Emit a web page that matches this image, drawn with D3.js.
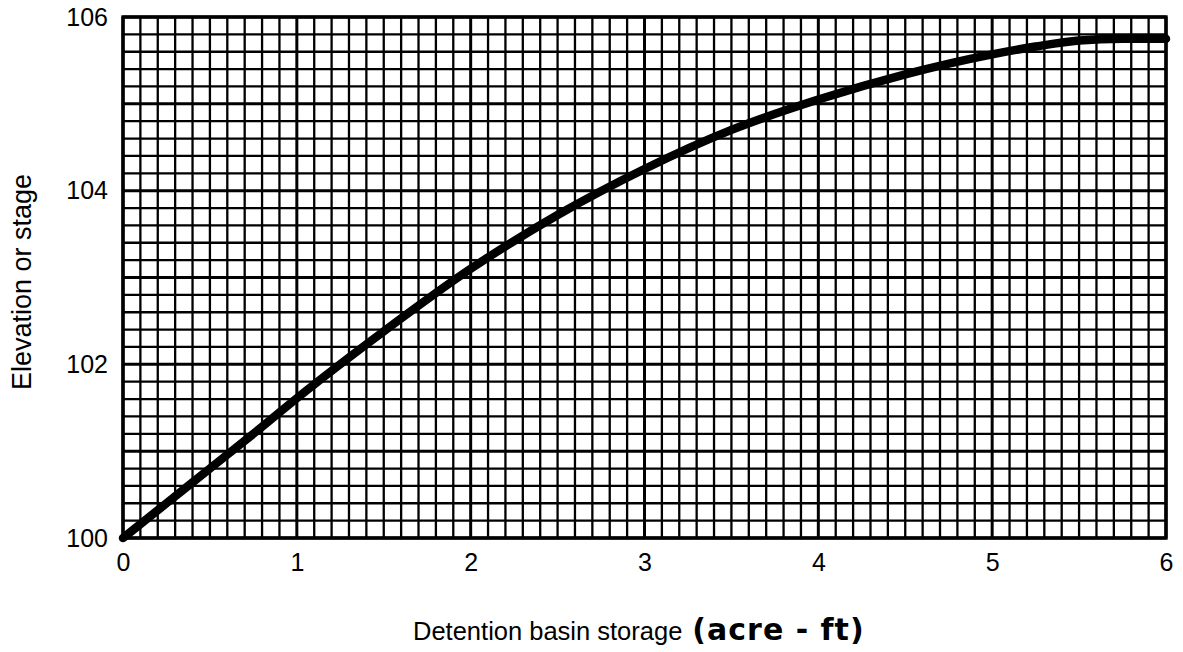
<!DOCTYPE html>
<html><head><meta charset="utf-8">
<script src="https://cdn.jsdelivr.net/npm/d3@7"></script>
<style>body{margin:0;background:#fff}svg{display:block}</style>
</head><body><svg id="c" width="1183" height="652"></svg>
<script>
const storage = [0, 0.25, 0.5, 0.75, 1.0, 1.5, 2.0, 2.5, 3.0, 3.5, 4.0, 4.5, 5.0, 5.25, 5.5, 5.75, 6.0];
const elevation = [100, 100.4, 100.8, 101.2, 101.61, 102.38, 103.1, 103.72, 104.25, 104.7, 105.05, 105.34, 105.57, 105.66, 105.73, 105.75, 105.75];
const xTicks = [0, 1, 2, 3, 4, 5, 6];
const yTicks = [100, 102, 104, 106];
const xLabel = "Detention basin storage";
const xUnit = "(acre - ft)";
const yLabel = "Elevation or stage";

const svg = d3.select("#c");
const L = 123, R = 1166, T = 17, B = 538;
const x = d3.scaleLinear().domain([0, 6]).range([L, R]);
const y = d3.scaleLinear().domain([100, 106]).range([B, T]);
const FONT = "Liberation Sans, Arial, sans-serif";

const g = svg.append("g");
const isMajor = d => Math.abs(d - Math.round(d)) < 1e-6;
g.selectAll("line.vx").data(d3.range(0, 61).map(i => i / 10)).join("line")
  .attr("x1", d => x(d)).attr("x2", d => x(d)).attr("y1", T).attr("y2", B)
  .attr("stroke", "#000").attr("stroke-width", d => isMajor(d) ? 3 : 2.3);
g.selectAll("line.hy").data(d3.range(0, 31).map(i => 100 + i / 5)).join("line")
  .attr("y1", d => y(d)).attr("y2", d => y(d)).attr("x1", L).attr("x2", R)
  .attr("stroke", "#000").attr("stroke-width", d => isMajor(d) ? 3 : 2.3);
g.append("rect").attr("x", L).attr("y", T).attr("width", R - L).attr("height", B - T)
  .attr("fill", "none").attr("stroke", "#000").attr("stroke-width", 3.4);

const xa = d3.axisBottom(x).tickValues(xTicks).tickSize(0).tickPadding(15).tickFormat(d3.format("d"));
const xg = svg.append("g").attr("transform", `translate(0,${B})`).call(xa);
xg.select(".domain").remove();
xg.selectAll("text").attr("font-family", FONT).attr("font-size", 25).attr("fill", "#000");
const ya = d3.axisLeft(y).tickValues(yTicks).tickSize(0).tickPadding(15).tickFormat(d3.format("d"));
const yg = svg.append("g").attr("transform", `translate(${L},0)`).call(ya);
yg.select(".domain").remove();
yg.selectAll("text").attr("font-family", FONT).attr("font-size", 25).attr("fill", "#000");

const line = d3.line().x((d, i) => x(storage[i])).y(d => y(d)).curve(d3.curveMonotoneX);
svg.append("path").attr("d", line(elevation)).attr("fill", "none").attr("stroke", "#000")
  .attr("stroke-width", 8.5).attr("stroke-linecap", "round").attr("stroke-linejoin", "round");

const xt = svg.append("text").attr("x", 413).attr("y", 640)
  .attr("font-family", FONT).attr("font-size", 25.5).attr("fill", "#000");
xt.append("tspan").text(xLabel);
xt.append("tspan").attr("dx", 10).attr("font-family", "DejaVu Sans, sans-serif").attr("font-weight", "bold")
  .attr("font-size", 30).attr("letter-spacing", 1).text(xUnit);
svg.append("text").attr("transform", "translate(31,282) rotate(-90)").attr("text-anchor", "middle")
  .attr("font-family", FONT).attr("font-size", 27).attr("fill", "#000").text(yLabel);
</script></body></html>
